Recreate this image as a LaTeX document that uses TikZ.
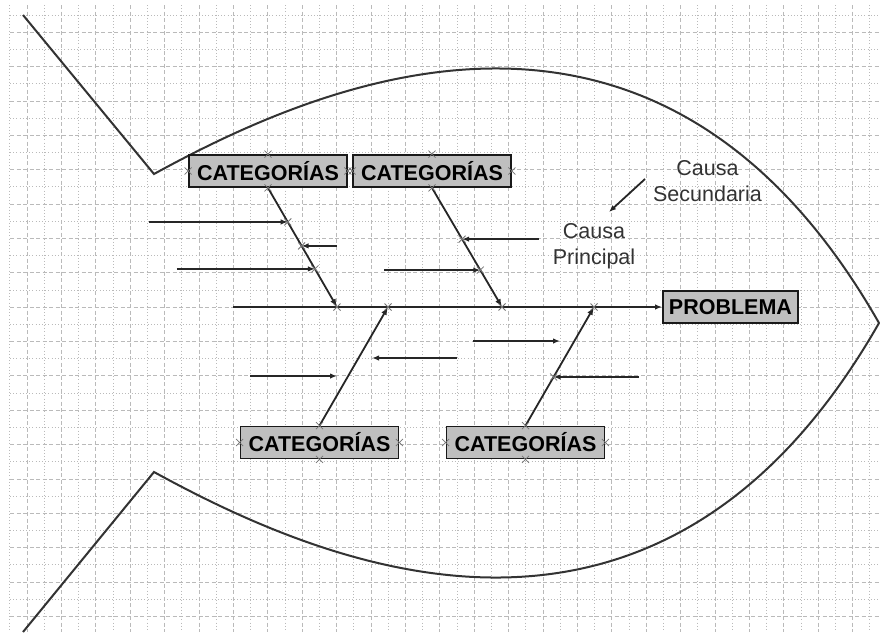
\documentclass[tikz,border=0pt]{standalone}
\usepackage{fontspec}
\setmainfont{Liberation Sans}
\usetikzlibrary{arrows.meta,calc}
\begin{document}
\begin{tikzpicture}[x=1pt,y=-1pt,
  gridbase/.style={draw=black!27, line width=0.7pt},
  minorline/.style={gridbase, dash pattern=on 1pt off 2.2pt},
  majorline/.style={gridbase, dash pattern=on 4pt off 2.5pt},
  outline/.style={draw=black!80, line width=2pt, line join=miter},
  catbox/.style={draw=black!90, fill=black!25, line width=1.8pt,
    minimum width=158pt, minimum height=32pt, inner sep=0pt,
    font=\fontsize{21.5}{24}\selectfont\bfseries},
  bone/.style={draw=black!85, line width=1.8pt, -{Latex[length=8pt,width=6pt]}},
  cause/.style={draw=black!85, line width=1.8pt, -{Latex[length=7pt,width=5.5pt]}},
  note/.style={text=black!80, align=center, inner sep=0pt,
    font=\fontsize{21.5}{26}\selectfont},
  xm/.pic={\draw[black!55, line width=0.8pt] (-3.5,-3.5) -- (3.5,3.5) (-3.5,3.5) -- (3.5,-3.5);}
]
% page
\fill[white] (0,0) rectangle (880,632);
\useasboundingbox (0,0) rectangle (880,632);

% background grid
\foreach \k in {0,...,35}{
  \pgfmathsetmacro\yy{15+17.18*\k}
  \ifodd\k \draw[majorline] (10,\yy) -- (880,\yy); \else \draw[minorline] (10,\yy) -- (880,\yy); \fi
}
\foreach \k in {0,...,50}{
  \pgfmathsetmacro\xx{9.8+17.2*\k}
  \ifodd\k \draw[majorline] (\xx,5) -- (\xx,632); \else \draw[minorline] (\xx,5) -- (\xx,632); \fi
}

% fish body and tail
\draw[outline] (23,15) -- (154,174)
  .. controls (329,78) and (660,-61) .. (879,323)
  .. controls (660,707) and (329,568) .. (154,472) -- (23,632);

% head and category boxes
\node[catbox, minimum width=135pt] (prob) at (730.5,307) {PROBLEMA};
\node[catbox] (c1) at (268,171) {CATEGORÍAS};
\node[catbox] (c2) at (432,171) {CATEGORÍAS};
\node[catbox] (c3) at (319.5,442.5) {CATEGORÍAS};
\node[catbox] (c4) at (525.5,442.5) {CATEGORÍAS};

% spine
\coordinate (tail) at (233,307);
\coordinate (s1) at (337,307);
\coordinate (s2) at (502,307);
\coordinate (s3) at (388,307);
\coordinate (s4) at (594,307);
\draw[cause] (tail) -- (prob.west);

% main bones
\draw[bone] (c1.south) -- (s1);
\draw[bone] (c2.south) -- (s2);
\draw[bone] (c3.north) -- (s3);
\draw[bone] (c4.north) -- (s4);

% points on the bones
\path (c1.south) -- (s1) coordinate[pos=.286] (a1) coordinate[pos=.487] (a2) coordinate[pos=.68] (a3);
\path (c2.south) -- (s2) coordinate[pos=.43] (b1) coordinate[pos=.69] (b2);
\path (c4.north) -- (s4) coordinate[pos=.41] (d2);

% secondary causes
\coordinate (a1s) at ($(a1)+(-139,0)$);
\coordinate (a2s) at ($(a2)+(35,0)$);
\coordinate (a3s) at ($(a3)+(-138,0)$);
\coordinate (b1s) at ($(b1)+(77,0)$);
\coordinate (b2s) at ($(b2)+(-96,0)$);
\coordinate (d2s) at ($(d2)+(85,0)$);
\draw[cause] (a1s) -- (a1);
\draw[cause] (a2s) -- (a2);
\draw[cause] (a3s) -- (a3);
\draw[cause] (b1s) -- (b1);
\draw[cause] (b2s) -- (b2);
\draw[cause] (d2s) -- (d2);

\coordinate (e1s) at (250,376); \coordinate (e1) at (337,376);
\coordinate (e2s) at (457,358); \coordinate (e2) at (372,358);
\coordinate (e3s) at (473,341); \coordinate (e3) at (560,341);
\draw[cause] (e1s) -- (e1);
\draw[cause] (e2s) -- (e2);
\draw[cause] (e3s) -- (e3);

% labels
\node[note] (sec) at (707.5,181) {Causa\\Secundaria};
\node[note] (pri) at (594,246.5) {Causa\\Principal};
\coordinate (q1) at (645,179);
\coordinate (q2) at (609,212);
\draw[cause] (q1) -- (q2);

% connection point marks
\foreach \n in {c1,c2,c3,c4}{
  \foreach \a in {north,south,east,west} \pic at (\n.\a) {xm};
}
\foreach \p in {s1,s2,s3,s4,a1,a2,a3,b1,b2,d2} \pic at (\p) {xm};
\end{tikzpicture}
\end{document}
